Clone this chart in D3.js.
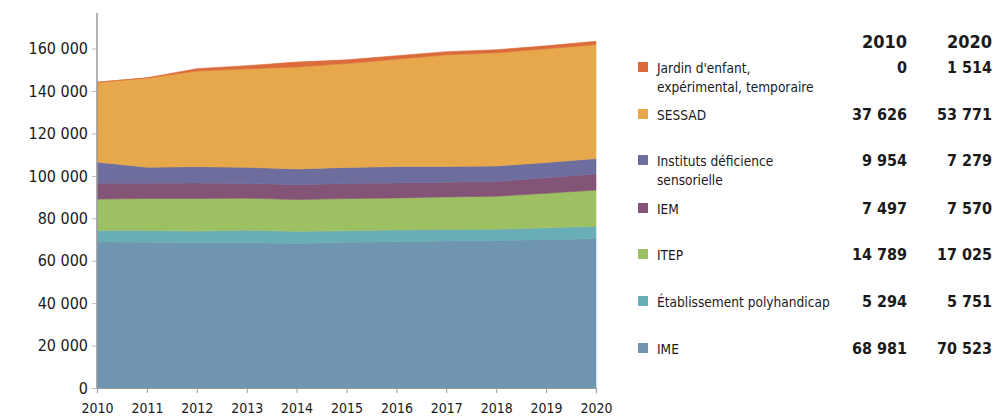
<!DOCTYPE html>
<html>
<head>
<meta charset="utf-8">
<script src="https://cdn.jsdelivr.net/npm/d3@7"></script>
<style>
    body { margin: 0; background: #fff; }
    svg text { font-family: "DejaVu Sans Condensed", "DejaVu Sans", sans-serif; fill: #1a1a1a; }
</style>
</head>
<body>
<svg id="chart" width="998" height="417"></svg>
<script>
// données (bas de pile en premier)
var years = [2010, 2011, 2012, 2013, 2014, 2015, 2016, 2017, 2018, 2019, 2020];
var ime = [68981, 68700, 68500, 68500, 68100, 68700, 69000, 69300, 69500, 69900, 70523];
var polyhandicap = [5294, 5550, 5500, 5900, 5750, 5450, 5500, 5450, 5350, 5600, 5751];
var itep = [14789, 15100, 15350, 15100, 15000, 15150, 15100, 15350, 15550, 16300, 17025];
var iem = [7497, 7150, 7300, 6950, 7000, 7100, 7100, 6950, 6950, 7300, 7570];
var deficienceSensorielle = [9954, 7600, 7700, 7600, 7400, 7600, 7700, 7400, 7300, 7200, 7279];
var sessad = [37626, 42000, 45100, 46400, 48100, 49000, 50600, 52600, 53400, 53600, 53771];
var jardin = [0, 100, 1100, 1500, 2300, 1700, 1600, 1500, 1400, 1400, 1514];
var yTicks = [0, 20000, 40000, 60000, 80000, 100000, 120000, 140000, 160000];

var series = [
    { key: 'ime', label: ['IME'], values: ime, color: '#7095b0' },
    { key: 'poly', label: ['Établissement polyhandicap'], values: polyhandicap, color: '#69aeb6' },
    { key: 'itep', label: ['ITEP'], values: itep, color: '#9dc063' },
    { key: 'iem', label: ['IEM'], values: iem, color: '#845476' },
    { key: 'ids', label: ['Instituts déficience', 'sensorielle'], values: deficienceSensorielle, color: '#6d6e9e' },
    { key: 'sessad', label: ['SESSAD'], values: sessad, color: '#e6a84a' },
    { key: 'jardin', label: ["Jardin d'enfant,", 'expérimental, temporaire'], values: jardin, color: '#dc6a3a' }
];

var fmt = function (v) {
    return d3.format(',')(v).replace(/,/g, ' ');
};

var svg = d3.select('#chart');
var x = d3.scaleLinear().domain([2010, 2020]).range([97, 596]);
var y = d3.scaleLinear().domain([0, 160000]).range([388, 48.6]);

var rows = years.map(function (yr, i) {
    var r = { year: yr };
    series.forEach(function (s) { r[s.key] = s.values[i]; });
    return r;
});
var stacked = d3.stack().keys(series.map(function (s) { return s.key; }))(rows);

var area = d3.area()
    .x(function (d) { return x(d.data.year); })
    .y0(function (d) { return y(d[0]); })
    .y1(function (d) { return y(d[1]); });

svg.append('g').selectAll('path')
    .data(stacked)
    .enter()
    .append('path')
    .attr('d', area)
    .attr('fill', function (d, i) { return series[i].color; })
    .attr('stroke', function (d, i) { return series[i].color; })
    .attr('stroke-width', 0.6);

// axes
var yAxis = d3.axisLeft(y).tickValues(yTicks).tickSize(5).tickPadding(4).tickFormat(fmt);
var gy = svg.append('g').attr('transform', 'translate(97,0)').call(yAxis);
gy.select('.domain').remove();
gy.append('line').attr('x1', 0).attr('x2', 0).attr('y1', 13).attr('y2', 388).attr('stroke', '#9a9a9a').attr('stroke-width', 1.5);
gy.selectAll('.tick line').attr('stroke', '#bbbbbb');
gy.selectAll('.tick text').style('font-size', '16px').attr('fill', '#1a1a1a');

var xAxis = d3.axisBottom(x).tickValues(years).tickSize(5).tickPadding(10).tickFormat(d3.format('d'));
var gx = svg.append('g').attr('transform', 'translate(0,388)').call(xAxis);
gx.select('.domain').attr('stroke', '#9a9a9a').attr('stroke-width', 1.2);
gx.selectAll('.tick line').attr('stroke', '#9a9a9a');
gx.selectAll('.tick text').style('font-size', '14px').attr('fill', '#1a1a1a');

// légende / tableau
var legendRows = [
    { s: series[6], y: 68 },
    { s: series[5], y: 115 },
    { s: series[4], y: 161 },
    { s: series[3], y: 209 },
    { s: series[2], y: 255 },
    { s: series[1], y: 302 },
    { s: series[0], y: 349 }
];

svg.append('text').attr('x', 907).attr('y', 48).attr('text-anchor', 'end')
    .style('font-size', '18px').style('font-weight', 'bold').text('2010');
svg.append('text').attr('x', 992).attr('y', 48).attr('text-anchor', 'end')
    .style('font-size', '18px').style('font-weight', 'bold').text('2020');

var lg = svg.append('g');
legendRows.forEach(function (r) {
    var g = lg.append('g');
    g.append('rect').attr('x', 638).attr('y', r.y - 6).attr('width', 10).attr('height', 10).attr('fill', r.s.color);
    r.s.label.forEach(function (t, k) {
        g.append('text').attr('x', 657).attr('y', r.y + 5 + k * 19).style('font-size', '13.6px').text(t);
    });
    var v = r.s.values;
    g.append('text').attr('x', 907).attr('y', r.y + 5).attr('text-anchor', 'end')
        .style('font-size', '16px').style('font-weight', 'bold').text(fmt(v[0]));
    g.append('text').attr('x', 992).attr('y', r.y + 5).attr('text-anchor', 'end')
        .style('font-size', '16px').style('font-weight', 'bold').text(fmt(v[v.length - 1]));
});
</script>
</body>
</html>
